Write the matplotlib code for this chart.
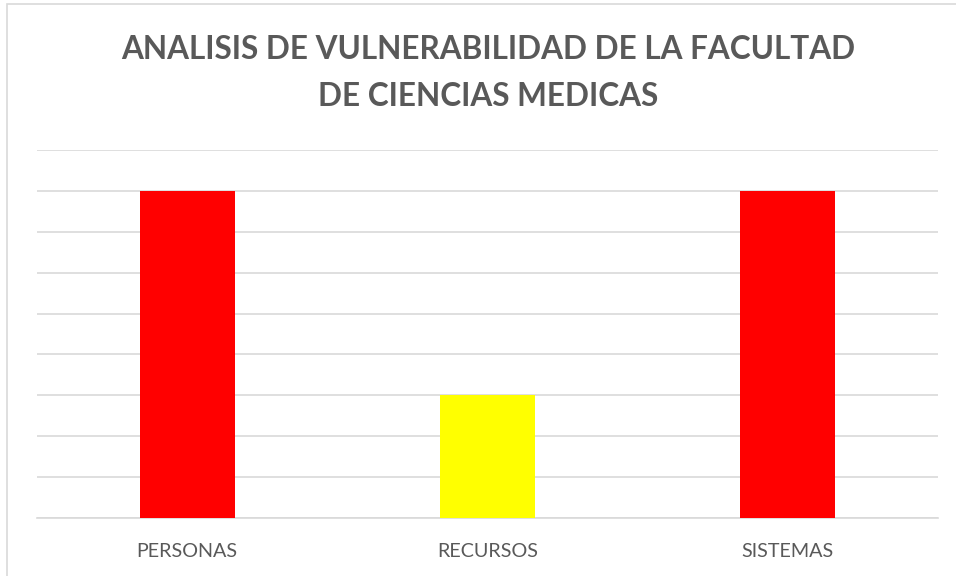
import matplotlib.pyplot as plt
from matplotlib.patches import Rectangle

CATEGORIES = ["PERSONAS", "RECURSOS", "SISTEMAS"]
VALUES = [8, 3, 8]
BAR_COLORS = ["#ff0000", "#ffff00", "#ff0000"]
TITLE = "ANALISIS DE VULNERABILIDAD DE LA FACULTAD\nDE CIENCIAS MEDICAS"

TEXT_GRAY = "#595959"
GRID_GRAY = "#d9d9d9"

fig = plt.figure(figsize=(9.56, 5.76), dpi=100)

# light chart-area border (runs off the right and bottom edges)
fig.patches.append(
    Rectangle((7 / 956, -0.05), 1.1, 1.05 - 4 / 576, transform=fig.transFigure,
              fill=False, edgecolor=GRID_GRAY, linewidth=1.2)
)

ax = fig.add_axes([37 / 956, 58 / 576, 901 / 956, 368 / 576])
x = range(len(CATEGORIES))
ax.bar(x, VALUES, width=0.317, color=BAR_COLORS, zorder=3)

ax.set_xlim(-0.5, len(CATEGORIES) - 0.5)
ax.set_ylim(0, 9)
ax.set_yticks(range(0, 10))
ax.set_yticklabels([])
ax.tick_params(axis="y", length=0)
ax.tick_params(axis="x", length=0, pad=18)
ax.set_xticks(list(x))
ax.set_xticklabels(CATEGORIES, fontfamily="Lato", fontsize=14.2, color=TEXT_GRAY)
ax.grid(axis="y", color=GRID_GRAY, linewidth=1.2, zorder=0)
for side in ["top", "right", "left"]:
    ax.spines[side].set_visible(False)
ax.spines["bottom"].set_color(GRID_GRAY)
ax.spines["bottom"].set_linewidth(1.2)

fig.text(488 / 956, 1 - 73 / 576, TITLE, ha="center", va="center",
         fontfamily="Lato", fontweight="bold", fontsize=22.7, color=TEXT_GRAY,
         linespacing=1.75)

fig.savefig("out.png", dpi=100)
